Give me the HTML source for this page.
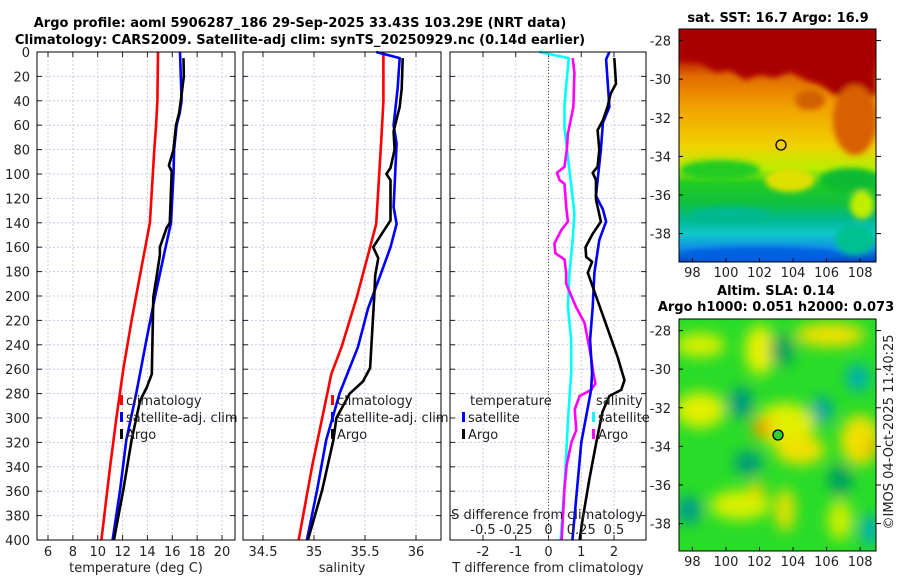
<!DOCTYPE html>
<html><head><meta charset="utf-8">
<style>
body{margin:0;background:#fff;}
svg{display:block;font-family:"DejaVu Sans","Liberation Sans",sans-serif;}
</style></head>
<body>
<svg id="fig" width="900" height="580" viewBox="0 0 900 580">
<defs>
<filter id="blur6" filterUnits="userSpaceOnUse" x="600" y="280" width="300" height="300"><feGaussianBlur stdDeviation="7"/></filter>
<filter id="blur3" filterUnits="userSpaceOnUse" x="600" y="0" width="300" height="300"><feGaussianBlur stdDeviation="3"/></filter>
<clipPath id="cm1"><rect x="679" y="29" width="197" height="233"/></clipPath>
<clipPath id="cm2"><rect x="679" y="319" width="197" height="232"/></clipPath>
<linearGradient id="sstg" x1="0" y1="0" x2="0" y2="1">
<stop offset="0" stop-color="#a30000"/><stop offset="0.12" stop-color="#b40800"/>
<stop offset="0.2" stop-color="#e06a00"/><stop offset="0.33" stop-color="#f2a000"/>
<stop offset="0.5" stop-color="#f0d000"/><stop offset="0.6" stop-color="#b8ee00"/>
<stop offset="0.66" stop-color="#20cc20"/><stop offset="0.75" stop-color="#10c040"/>
<stop offset="0.82" stop-color="#00b890"/><stop offset="0.88" stop-color="#10c8c8"/>
<stop offset="0.94" stop-color="#1090e8"/><stop offset="1" stop-color="#0040c0"/>
</linearGradient>
</defs>
<text x="300" y="27" text-anchor="middle" font-weight="bold" font-size="13">Argo profile: aoml 5906287_186 29-Sep-2025 33.43S 103.29E (NRT data)</text>
<text x="300" y="44" text-anchor="middle" font-weight="bold" font-size="13">Climatology: CARS2009. Satellite-adj clim: synTS_20250929.nc (0.14d earlier)</text>
<g id="panels"></g>
<!-- SST map -->
<g>
<text x="778" y="22" text-anchor="middle" font-weight="bold" font-size="13">sat. SST: 16.7 Argo: 16.9</text>
<g clip-path="url(#cm1)">
<rect x="679" y="29" width="197" height="233" fill="url(#sstg)"/>
<g filter="url(#blur3)">
<path d="M679 60 L700 62 L715 72 L730 70 L745 80 L760 75 L775 78 L790 72 L805 80 L820 85 L835 95 L855 100 L876 95 L876 29 L679 29Z" fill="#a80000"/>
<ellipse cx="855" cy="120" rx="22" ry="35" fill="#d86000"/>
<ellipse cx="810" cy="100" rx="15" ry="10" fill="#d06000"/>
<ellipse cx="720" cy="170" rx="40" ry="10" fill="#20cc20"/>
<ellipse cx="850" cy="180" rx="30" ry="12" fill="#10bb30"/>
<ellipse cx="790" cy="180" rx="25" ry="12" fill="#e0e000"/>
<ellipse cx="862" cy="205" rx="12" ry="14" fill="#c0ee00"/>
<ellipse cx="730" cy="215" rx="40" ry="8" fill="#00b890"/>
<ellipse cx="760" cy="255" rx="80" ry="8" fill="#0060e0"/>
<ellipse cx="855" cy="240" rx="20" ry="15" fill="#00c090"/>
</g>
</g>
<rect x="679" y="29" width="197" height="233" fill="none" stroke="#000"/>
<circle cx="781" cy="145" r="5" fill="none" stroke="#000" stroke-width="1.3"/>
<g id="m1ticks"></g>
</g>
<!-- SLA map -->
<g>
<text x="776" y="295" text-anchor="middle" font-weight="bold" font-size="13">Altim. SLA: 0.14</text>
<text x="776" y="311" text-anchor="middle" font-weight="bold" font-size="13">Argo h1000: 0.051 h2000: 0.073</text>
<g clip-path="url(#cm2)">
<rect x="679" y="319" width="197" height="232" fill="#28dc28"/>
<g filter="url(#blur6)">
<ellipse cx="700" cy="345" rx="25" ry="12" fill="#d8f000"/>
<ellipse cx="760" cy="350" rx="15" ry="25" fill="#e8f000"/>
<ellipse cx="830" cy="335" rx="35" ry="12" fill="#f0e000"/>
<ellipse cx="700" cy="410" rx="25" ry="18" fill="#e0f000"/>
<ellipse cx="785" cy="425" rx="30" ry="22" fill="#e0f000"/>
<ellipse cx="762" cy="428" rx="10" ry="10" fill="#f0a000"/>
<ellipse cx="800" cy="450" rx="25" ry="15" fill="#f0e000"/>
<ellipse cx="860" cy="440" rx="20" ry="25" fill="#f0e000"/>
<ellipse cx="870" cy="448" rx="6" ry="8" fill="#f0b000"/>
<ellipse cx="740" cy="505" rx="30" ry="15" fill="#d8f000"/>
<ellipse cx="785" cy="510" rx="10" ry="22" fill="#e8e000"/>
<ellipse cx="840" cy="520" rx="12" ry="20" fill="#d0f000"/>
<ellipse cx="757" cy="490" rx="8" ry="8" fill="#f0d000"/>
<ellipse cx="741" cy="403" rx="12" ry="16" fill="#009a80"/>
<ellipse cx="822" cy="410" rx="11" ry="14" fill="#00a8a0"/>
<ellipse cx="858" cy="378" rx="12" ry="14" fill="#00b0b0"/>
<ellipse cx="748" cy="463" rx="14" ry="12" fill="#009a80"/>
<ellipse cx="689" cy="510" rx="12" ry="14" fill="#009a90"/>
<ellipse cx="870" cy="530" rx="10" ry="16" fill="#00b0b0"/>
<ellipse cx="782" cy="350" rx="12" ry="16" fill="#00a060"/>
<ellipse cx="840" cy="480" rx="12" ry="16" fill="#00a060"/>
</g>
</g>
<rect x="679" y="319" width="197" height="232" fill="none" stroke="#000"/>
<circle cx="778" cy="435" r="5" fill="#30d030" stroke="#000" stroke-width="1.3"/>
<g id="m2ticks"></g>
</g>
<text transform="translate(893,432) rotate(-90)" text-anchor="middle" font-size="13" fill="#222">©IMOS 04-Oct-2025 11:40:25</text>
</svg>
<script>
// ---------- data ----------
const depthTicks = [0,20,40,60,80,100,120,140,160,180,200,220,240,260,280,300,320,340,360,380,400];
const tempTicks = [6,8,10,12,14,16,18,20];
const salTicks = [34.5,35,35.5,36];
const salTickLabels = ["34.5","35","35.5","36"];
const tdiffTicks = [-2,-1,0,1,2];
const sdiffTicks = [-0.5,-0.25,0,0.25,0.5];
const sdiffTickLabels = ["-0.5","-0.25","0","0.25","0.5"];
// panel 1: temperature
const climTDepth = [0,40,60,80,140,183,220,260,300,340,400];
const climTVal = [14.85,14.8,14.7,14.55,14.2,13.4,12.73,12.06,11.5,11.0,10.3];
const satTDepth = [0,40,50,60,80,100,140,163,201,237,280,318,359,400];
const satTVal = [16.62,16.75,16.6,16.35,16.15,16.1,15.9,15.4,14.6,13.9,13.1,12.3,11.8,11.2];
const argoTDepth = [5,20,35,50,60,80,93,98,140,144,160,166,183,201,264,275,286,318,359,400];
const argoTVal = [16.9,16.93,16.75,16.55,16.3,16.1,15.73,15.95,15.8,15.55,15.0,15.0,14.75,14.47,14.35,13.94,13.4,12.73,12.06,11.3];
// panel 2: salinity
const climSDepth = [0,40,72,141,160,201,242,264,300,340,400];
const climSVal = [35.68,35.68,35.66,35.61,35.55,35.42,35.27,35.17,35.08,34.98,34.85];
const satSDepth = [0,5,30,60,75,127,141,160,183,210,242,280,318,359,400];
const satSVal = [35.61,35.84,35.82,35.78,35.81,35.78,35.81,35.75,35.65,35.53,35.43,35.25,35.12,35.03,34.93];
const argoSDepth = [5,30,45,55,65,80,95,100,105,138,147,160,169,183,201,259,270,280,300,318,359,400];
const argoSVal = [35.87,35.86,35.84,35.81,35.78,35.79,35.75,35.71,35.75,35.75,35.68,35.58,35.63,35.6,35.59,35.55,35.48,35.35,35.22,35.19,35.08,34.94];
// panel 3: differences
const satTdDepth = [0,6,45,58,80,105,118,129,139,154,181,209,236,263,277,320,400];
const satTdVal = [1.86,1.76,1.86,1.66,1.6,1.5,1.45,1.66,1.76,1.55,1.4,1.35,1.27,1.33,1.3,1.0,0.73];
const argoTdDepth = [5,26,34,45,56,64,80,94,99,105,121,139,149,160,168,172,181,200,231,250,269,277,282,295,320,350,383,400];
const argoTdVal = [2.01,2.06,1.9,1.8,1.66,1.5,1.55,1.5,1.35,1.45,1.45,1.6,1.35,1.13,1.15,1.33,1.2,1.45,1.86,2.11,2.32,2.22,1.86,1.65,1.46,1.25,1.04,0.95];
const satSdDepth = [0,5,27,45,62,132,154,181,209,236,263,300,350,400];
const satSdVal = [-0.07,0.155,0.135,0.122,0.122,0.198,0.185,0.16,0.148,0.173,0.173,0.15,0.125,0.093];
const argoSdDepth = [5,17,45,67,80,94,99,105,108,127,139,146,157,165,170,181,190,209,222,250,263,272,277,282,293,310,320,339,358,400];
const argoSdVal = [0.185,0.198,0.19,0.148,0.14,0.122,0.065,0.085,0.122,0.135,0.148,0.098,0.045,0.053,0.122,0.135,0.135,0.21,0.275,0.325,0.342,0.358,0.325,0.238,0.2,0.212,0.175,0.138,0.122,0.1];
// maps
const latTicks = [-28,-30,-32,-34,-36,-38];
const lonTicks = [98,100,102,104,106,108];

// ---------- helpers ----------
const NS="http://www.w3.org/2000/svg";
const panelsG=document.getElementById('panels');
function mk(tag,attrs,parent){const e=document.createElementNS(NS,tag);for(const k in attrs)e.setAttribute(k,attrs[k]);(parent||panelsG).appendChild(e);return e;}
const Y0=52,Y1=540;
function yD(d){return Y0+(d/400)*(Y1-Y0);}
function lin(d0,d1,r0,r1){return v=>r0+(v-d0)/(d1-d0)*(r1-r0);}
const xT=lin(6,20,48,222);
const xS=lin(34.5,36,263,416);
const xTd=lin(-2,2,483,614);
const xSd=lin(-0.5,0.5,483,614);

function frame(x0,x1,name){
  const g=mk('g',{});
  
  
  return g;
}
function hgrid(g,x0,x1){
  depthTicks.forEach(d=>{
    mk('line',{x1:x0,x2:x1,y1:yD(d),y2:yD(d),stroke:'#c8cce8','stroke-width':1,'stroke-dasharray':'2,2'},g);
    mk('line',{x1:x0,x2:x0+5,y1:yD(d),y2:yD(d),stroke:'#222'},g);
    mk('line',{x1:x1-5,x2:x1,y1:yD(d),y2:yD(d),stroke:'#222'},g);
  });
}
function vgrid(g,xs,fx,top){
  xs.forEach(v=>{
    const x=fx(v);
    mk('line',{x1:x,x2:x,y1:Y0,y2:Y1,stroke:'#e0c8d0','stroke-width':1,'stroke-dasharray':'2,2'},g);
    mk('line',{x1:x,x2:x,y1:Y1-5,y2:Y1,stroke:'#222'},g);
    if(top) mk('line',{x1:x,x2:x,y1:Y0,y2:Y0+5,stroke:'#222'},g);
  });
}
function line(g,ds,vs,fx,color,name){
  const p=ds.map((d,i)=>(i?'L':'M')+fx(vs[i]).toFixed(1)+' '+yD(d).toFixed(1)).join(' ');
  const e=mk('path',{d:p,fill:'none',stroke:color,'stroke-width':2.6,'stroke-linejoin':'round'},g);
  
  
}
function txt(g,x,y,s,anchor,size){const t=mk('text',{x:x,y:y,'text-anchor':anchor||'middle','font-size':size||13,fill:'#222'},g);t.textContent=s;return t;}
function legend(g,x,y,color,label){
  mk('rect',{x:x,y:y-10,width:3,height:10,fill:color},g);
  const t=txt(g,x+6,y,label,'start');
  
  
}

// ---------- panel 1 ----------
let g=frame(37,235,'temperature-panel');
vgrid(g,tempTicks,xT,true); hgrid(g,37,235);
depthTicks.forEach(d=>txt(g,30,yD(d)+5,String(d),'end'));
tempTicks.forEach(t=>txt(g,xT(t),556,String(t)));
txt(g,136,572,'temperature (deg C)');
line(g,climTDepth,climTVal,xT,'#ff0000','climatology-temp-line');
line(g,satTDepth,satTVal,xT,'#0000ff','satellite-temp-line');
line(g,argoTDepth,argoTVal,xT,'#000000','argo-temp-line');
legend(g,120,405,'#ff0000','climatology');
legend(g,120,422,'#0000ff','satellite-adj. clim');
legend(g,120,439,'#000000','Argo');
mk('rect',{x:37,y:Y0,width:198,height:Y1-Y0,fill:'none',stroke:'#000'},g);

// ---------- panel 2 ----------
g=frame(243,441,'salinity-panel');
vgrid(g,salTicks,xS,true); hgrid(g,243,441);
salTicks.forEach((t,i)=>txt(g,xS(t),556,salTickLabels[i]));
txt(g,342,572,'salinity');
line(g,climSDepth,climSVal,xS,'#ff0000','climatology-sal-line');
line(g,satSDepth,satSVal,xS,'#0000ff','satellite-sal-line');
line(g,argoSDepth,argoSVal,xS,'#000000','argo-sal-line');
legend(g,331,405,'#ff0000','climatology');
legend(g,331,422,'#0000ff','satellite-adj. clim');
legend(g,331,439,'#000000','Argo');
mk('rect',{x:243,y:Y0,width:198,height:Y1-Y0,fill:'none',stroke:'#000'},g);

// ---------- panel 3 ----------
g=frame(450,646,'difference-panel');
vgrid(g,tdiffTicks,xTd,false); hgrid(g,450,646);
sdiffTicks.forEach(t=>mk('line',{x1:xSd(t),x2:xSd(t),y1:Y0,y2:Y0+5,stroke:'#222'},g));
mk('line',{x1:xTd(0),x2:xTd(0),y1:Y0,y2:Y1,stroke:'#445533','stroke-width':1,'stroke-dasharray':'1,2'},g);
tdiffTicks.forEach(t=>txt(g,xTd(t),556,String(t)));
txt(g,548,572,'T difference from climatology');
line(g,satSdDepth,satSdVal,xSd,'#00ffff','satellite-sal-diff-line');
line(g,argoSdDepth,argoSdVal,xSd,'#ff00ff','argo-sal-diff-line');
line(g,satTdDepth,satTdVal,xTd,'#0000ff','satellite-temp-diff-line');
line(g,argoTdDepth,argoTdVal,xTd,'#000000','argo-temp-diff-line');
txt(g,547,519,'S difference from climatology');
sdiffTicks.forEach((t,i)=>txt(g,xSd(t),534,sdiffTickLabels[i]));
txt(g,470,405,'temperature','start');
legend(g,462,422,'#0000ff','satellite');
legend(g,462,439,'#000000','Argo');
txt(g,596,405,'salinity','start');
legend(g,592,422,'#00ffff','satellite');
legend(g,592,439,'#ff00ff','Argo');
mk('rect',{x:450,y:Y0,width:196,height:Y1-Y0,fill:'none',stroke:'#000'},g);

// ---------- map ticks ----------
function mapTicks(id,top,bot){
  const mg=document.getElementById(id);
  const fy=lat=>top+(-27.4-lat)*19.3;
  const fx=lon=>679+(lon-97.2)*16.77;
  latTicks.forEach(l=>{
    const y=fy(l);
    mk('line',{x1:679,x2:683,y1:y,y2:y,stroke:'#000'},mg);
    mk('line',{x1:876,x2:881,y1:y,y2:y,stroke:'#000'},mg);
    txt(mg,671,y+5,String(l),'end');
  });
  lonTicks.forEach(l=>{
    const x=fx(l);
    mk('line',{x1:x,x2:x,y1:bot-4,y2:bot,stroke:'#000'},mg);
    txt(mg,x,bot+15,String(l));
  });
}
mapTicks('m1ticks',29,262);
mapTicks('m2ticks',319,551);
</script>
</body></html>
